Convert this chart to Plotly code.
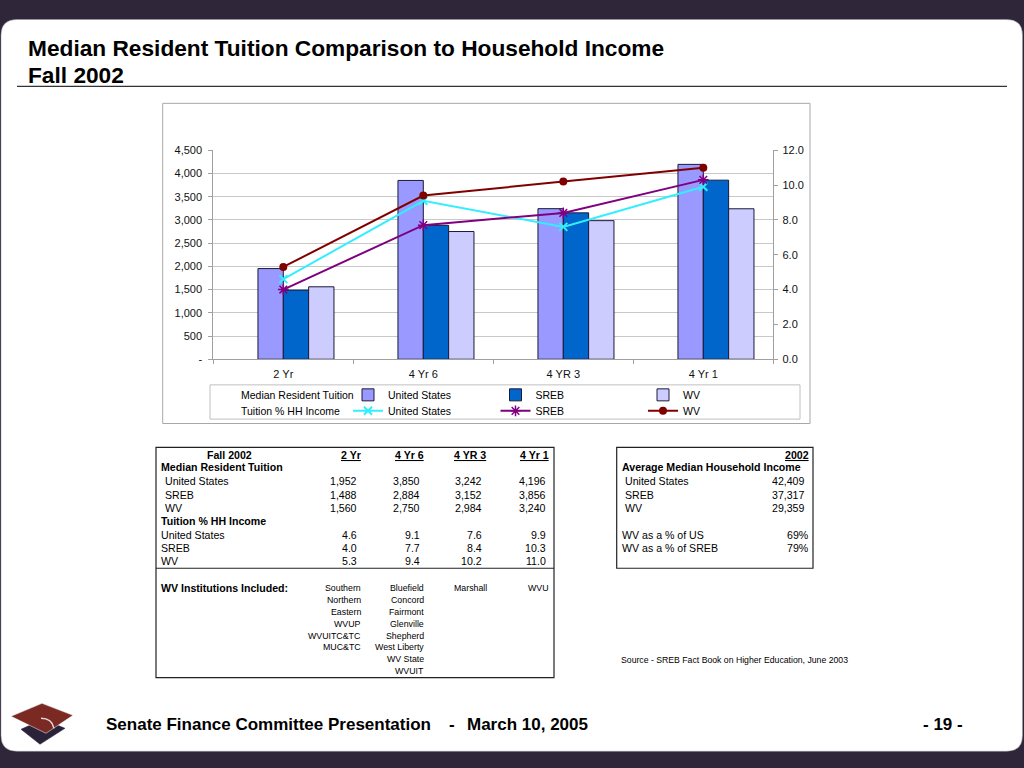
import plotly.graph_objects as go

# ---------------- data ----------------
categories = ["2 Yr", "4 Yr 6", "4 YR 3", "4 Yr 1"]
tuition_us = [1952, 3850, 3242, 4196]
tuition_sreb = [1488, 2884, 3152, 3856]
tuition_wv = [1560, 2750, 2984, 3240]
pct_us = [4.6, 9.1, 7.6, 9.9]
pct_sreb = [4.0, 7.7, 8.4, 10.3]
pct_wv = [5.3, 9.4, 10.2, 11.0]

left_ticks = [0, 500, 1000, 1500, 2000, 2500, 3000, 3500, 4000, 4500]
left_tick_labels = ["-", "500", "1,000", "1,500", "2,000", "2,500", "3,000", "3,500", "4,000", "4,500"]
right_ticks = [0, 2, 4, 6, 8, 10, 12]

series_names = ["United States", "SREB", "WV"]
income_2002 = [42409, 37317, 29359]
wv_share_labels = ["WV as a % of US", "WV as a % of SREB"]
wv_share_values = [69, 79]

institutions = [
    ["Southern", "Northern", "Eastern", "WVUP", "WVUITC&TC", "MUC&TC"],
    ["Bluefield", "Concord", "Fairmont", "Glenville", "Shepherd", "West Liberty", "WV State", "WVUIT"],
    ["Marshall"],
    ["WVU"],
]

title_lines = ["Median Resident Tuition Comparison to Household Income", "Fall 2002"]
footer_left = "Senate Finance Committee Presentation"
footer_date = "March 10, 2005"
page_label = "- 19 -"
source_text = "Source - SREB Fact Book on Higher Education, June 2003"

# ---------------- helpers ----------------
W, H = 1024, 768
VA, VB = 0.986, 4.5   # vertical correction for the photographed page
def X(px):
    return px / W
def Y(py):
    return 1 - ((py - VB) / VA) / H

ARIAL = "Liberation Sans, Arial, Helvetica, sans-serif"
DARK = "#30263a"

annotations = []
def ann(text, x, y, anchor="left", size=10.6, family=ARIAL, color="#000000"):
    annotations.append(dict(text=text, x=X(x), y=Y(y), xref="paper", yref="paper",
                            xanchor=anchor, yanchor="middle", showarrow=False,
                            font=dict(family=family, size=size, color=color)))

shapes = []
def rect(x0, y0, x1, y1, color, width=1, fill=None, layer="below"):
    shapes.append(dict(type="rect", xref="paper", yref="paper",
                       x0=X(x0), x1=X(x1), y0=Y(y1), y1=Y(y0),
                       line=dict(color=color, width=width),
                       fillcolor=fill if fill else "rgba(0,0,0,0)", layer=layer))
def hline(x0, x1, y, color, width=1):
    shapes.append(dict(type="line", xref="paper", yref="paper",
                       x0=X(x0), x1=X(x1), y0=Y(y), y1=Y(y),
                       line=dict(color=color, width=width), layer="below"))
def poly(pts, fill, line_color=None, layer="above"):
    path = "M " + " L ".join(f"{X(a)},{Y(b)}" for a, b in pts) + " Z"
    shapes.append(dict(type="path", xref="paper", yref="paper", path=path,
                       fillcolor=fill, line=dict(color=line_color or fill, width=0.5), layer=layer))

# white rounded slide body
x0, x1, yt, yb = X(1), X(1022.5), Y(18), Y(751)
rx, ry = 16 / W, 16 / H
body = (f"M {x0+rx},{yt} L {x1-rx},{yt} Q {x1},{yt} {x1},{yt-ry} L {x1},{yb+ry} "
        f"Q {x1},{yb} {x1-rx},{yb} L {x0+rx},{yb} Q {x0},{yb} {x0},{yb+ry} "
        f"L {x0},{yt-ry} Q {x0},{yt} {x0+rx},{yt} Z")
shapes.append(dict(type="path", xref="paper", yref="paper", path=body,
                   fillcolor="#ffffff", line=dict(color="#9a96a0", width=0.5), layer="below"))

# title + rule
ann("<b>" + title_lines[0] + "</b>", 26, 47, size=22.7)
ann("<b>" + title_lines[1] + "</b>", 26, 74, size=22.7)
hline(17, 1007, 85, "#333333", 1.2)

# chart frame and legend frame
rect(162.7, 102, 810, 422.7, "#a8a8a8", 1)
rect(210, 384, 800, 418.3, "#c0c0c0", 1)
ann("Median Resident Tuition", 239, 394, size=10.5)
ann("Tuition % HH Income", 239, 410, size=10.5)

# ---------------- traces ----------------
fig = go.Figure()
bar_colors = ["#9999FF", "#0066CC", "#CCCCFF"]
bar_offsets = [-0.181, 0.0, 0.181]
for name, vals, col, off in zip(series_names, [tuition_us, tuition_sreb, tuition_wv], bar_colors, bar_offsets):
    fig.add_trace(go.Bar(x=categories, y=vals, name=name, width=0.181, offset=off,
                         marker=dict(color=col, line=dict(color="#1a1a3a", width=1)),
                         legend="legend"))

line_styles = [
    ("#33EEFF", dict(symbol="x-thin-open", size=8, line=dict(color="#33EEFF", width=2))),
    ("#800080", dict(symbol="asterisk-open", size=9, line=dict(color="#800080", width=1.5))),
    ("#800000", dict(symbol="circle", size=8, color="#800000")),
]
for name, vals, (col, mk) in zip(series_names, [pct_us, pct_sreb, pct_wv], line_styles):
    fig.add_trace(go.Scatter(x=categories, y=vals, name=name, yaxis="y2", mode="lines+markers",
                             line=dict(color=col, width=2), marker=mk, legend="legend2"))

# ---------------- tables ----------------
rect(156, 446.7, 554, 677.3, "#222222", 1.2)
hline(156, 554, 567.7, "#222222", 1.2)
hdr_right = [362.7, 426, 488.3, 551]
val_right = [358.7, 421.7, 484.3, 548.3]
ann("<b>Fall 2002</b>", 229.3, 454, anchor="center")
for c, xr in zip(categories, hdr_right):
    ann("<b><u>" + c + "</u></b>", xr, 454, anchor="right")
ann("<b>Median Resident Tuition</b>", 158.5, 466.7)
ann("<b>Tuition % HH Income</b>", 158.5, 520.7)
tuition_rows_y = [480.7, 494, 507.3]
pct_rows_y = [534.3, 547.7, 560.7]
for name, vals, yy in zip(series_names, [tuition_us, tuition_sreb, tuition_wv], tuition_rows_y):
    ann(name, 162.5, yy)
    for v, xr in zip(vals, val_right):
        ann(f"{v:,}", xr, yy, anchor="right")
for name, vals, yy in zip(series_names, [pct_us, pct_sreb, pct_wv], pct_rows_y):
    ann(name, 158.5, yy)
    for v, xr in zip(vals, val_right):
        ann(f"{v:.1f}", xr, yy, anchor="right")
ann("<b>WV Institutions Included:</b>", 158.5, 587.7)
inst_right = [362.7, 426, 489, 551]
for col, xr in zip(institutions, inst_right):
    for i, nm in enumerate(col):
        ann(nm, xr, 587.7 + i * 11.85, anchor="right", size=8.8)

rect(616.7, 446.7, 813, 567.7, "#222222", 1.2)
ann("<b><u>2002</u></b>", 810.5, 454, anchor="right")
ann("<b>Average Median Household Income</b>", 619.5, 466.7)
for name, v, yy in zip(series_names, income_2002, tuition_rows_y):
    ann(name, 623, yy)
    ann(f"{v:,}", 807, yy, anchor="right")
for lab, v, yy in zip(wv_share_labels, wv_share_values, pct_rows_y[:2]):
    ann(lab, 619.5, yy)
    ann(f"{v}%", 810.5, yy, anchor="right")
ann(source_text, 619, 659.3, size=8.7)

# footer
ann("<b>" + footer_left + "</b>", 104, 724, size=17)
ann("<b>-</b>", 452, 724, anchor="center", size=17)
ann("<b>" + footer_date + "</b>", 465, 724, size=17)
ann("<b>" + page_label + "</b>", 943, 724, anchor="center", size=17)

# logo (mortarboard)
poly([(21, 729), (43, 719), (65, 728), (40, 744)], "#2a2238")
poly([(11, 716), (42, 703), (73, 715), (46, 733)], "#7a2a22", line_color="#ffffff")
shapes.append(dict(type="path", xref="paper", yref="paper",
                   path=f"M {X(41)},{Y(718)} Q {X(52)},{Y(718)} {X(54)},{Y(728)}",
                   line=dict(color="#e8d8d8", width=1.5), layer="above"))

# ---------------- layout ----------------
tick_font = dict(family=ARIAL, size=11, color="#111111")
fig.update_layout(
    width=W, height=H,
    margin=dict(l=0, r=0, t=0, b=0),
    paper_bgcolor=DARK,
    plot_bgcolor="rgba(0,0,0,0)",
    barmode="overlay",
    showlegend=True,
    font=dict(family=ARIAL, size=10.5, color="#000000"),
    xaxis=dict(domain=[X(213.3), X(773.3)], type="category", range=[-0.5, 3.5],
               showline=True, linecolor="#a0a0a0", linewidth=1, ticks="outside",
               tickson="boundaries", ticklen=4, tickcolor="#a0a0a0", ticklabelstandoff=5,
               showgrid=False, zeroline=False, tickfont=tick_font),
    yaxis=dict(domain=[Y(358.3), Y(149)], range=[0, 4500], tickvals=left_ticks,
               ticktext=left_tick_labels, showgrid=True, gridcolor="#c8c8c8",
               showline=True, linecolor="#a0a0a0", ticks="outside", ticklen=4,
               tickcolor="#a0a0a0", zeroline=False, tickfont=tick_font,
               ticklabelstandoff=4),
    yaxis2=dict(overlaying="y", side="right", range=[0, 12], tickvals=right_ticks,
                tickformat=".1f", showgrid=False, showline=True, linecolor="#a0a0a0",
                ticks="outside", ticklen=4, tickcolor="#a0a0a0", zeroline=False,
                tickfont=tick_font, ticklabelstandoff=2),
    legend=dict(x=X(348), y=Y(394), xanchor="left", yanchor="middle", orientation="h",
                entrywidth=102.5, entrywidthmode="pixels", bgcolor="rgba(0,0,0,0)",
                borderwidth=0, font=dict(family=ARIAL, size=10.5), traceorder="normal"),
    legend2=dict(x=X(348), y=Y(410), xanchor="left", yanchor="middle", orientation="h",
                 entrywidth=102.5, entrywidthmode="pixels", bgcolor="rgba(0,0,0,0)",
                 borderwidth=0, font=dict(family=ARIAL, size=10.5), traceorder="normal"),
    shapes=shapes,
    annotations=annotations,
)

fig.write_html("out.html", config={"displayModeBar": False},
               post_script="document.body.style.margin='0';")
